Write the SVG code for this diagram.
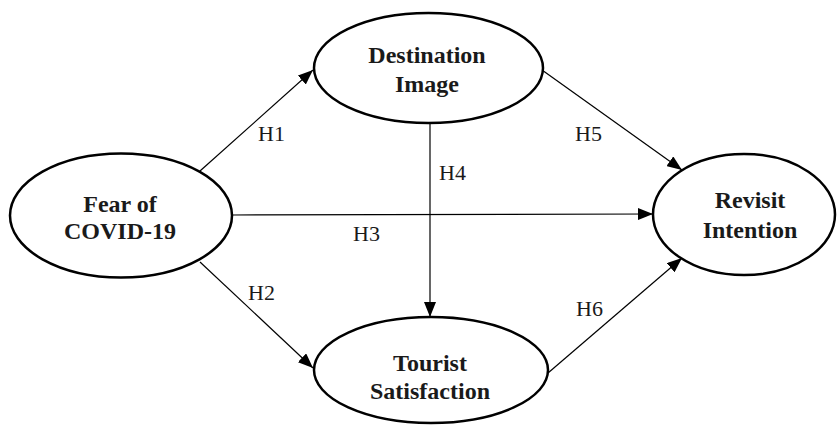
<svg xmlns="http://www.w3.org/2000/svg" width="838" height="428" viewBox="0 0 838 428">
<style>
.node{fill:#fff;stroke:#000;stroke-width:2.5}
.nt{font-family:"Liberation Serif","Times New Roman",serif;font-weight:bold;font-size:24px;fill:#1a1a1a;text-anchor:middle}
.lbl{font-family:"Liberation Serif","Times New Roman",serif;font-size:22px;fill:#1a1a1a}
.edge{stroke:#000;stroke-width:1.2;fill:none;marker-end:url(#ah)}
</style>
<defs>
<marker id="ah" markerUnits="userSpaceOnUse" markerWidth="16" markerHeight="12" refX="15" refY="6" orient="auto">
<path d="M0,0 L15,6 L0,12 Z" fill="#000"/>
</marker>
</defs>
<rect width="838" height="428" fill="#fff"/>
<g id="connectors">
<line class="edge" x1="200" y1="171" x2="313" y2="70"/>
<line class="edge" x1="200" y1="262" x2="313" y2="368"/>
<line class="edge" x1="232" y1="215" x2="653" y2="214"/>
<line class="edge" x1="430" y1="123" x2="430" y2="317"/>
<line class="edge" x1="542" y1="70" x2="682" y2="170"/>
<line class="edge" x1="548" y1="373" x2="682" y2="258"/>
</g>
<g id="fear">
<ellipse class="node" cx="121" cy="215.5" rx="111" ry="62"/>
<text class="nt" x="120" y="212">Fear of</text>
<text class="nt" x="120" y="239">COVID-19</text>
</g>
<g id="destination">
<ellipse class="node" cx="428.5" cy="68" rx="114.5" ry="55"/>
<text class="nt" x="427" y="63">Destination</text>
<text class="nt" x="427" y="92">Image</text>
</g>
<g id="tourist">
<ellipse class="node" cx="431" cy="370" rx="117" ry="53"/>
<text class="nt" x="430" y="371">Tourist</text>
<text class="nt" x="430" y="399">Satisfaction</text>
</g>
<g id="revisit">
<ellipse class="node" cx="744" cy="214.5" rx="91" ry="60.5"/>
<text class="nt" x="750" y="208">Revisit</text>
<text class="nt" x="750" y="238">Intention</text>
</g>
<g id="labels">
<text class="lbl" x="258" y="141">H1</text>
<text class="lbl" x="248" y="300">H2</text>
<text class="lbl" x="353" y="241">H3</text>
<text class="lbl" x="439" y="180">H4</text>
<text class="lbl" x="575" y="141">H5</text>
<text class="lbl" x="576" y="316">H6</text>
</g>
</svg>
